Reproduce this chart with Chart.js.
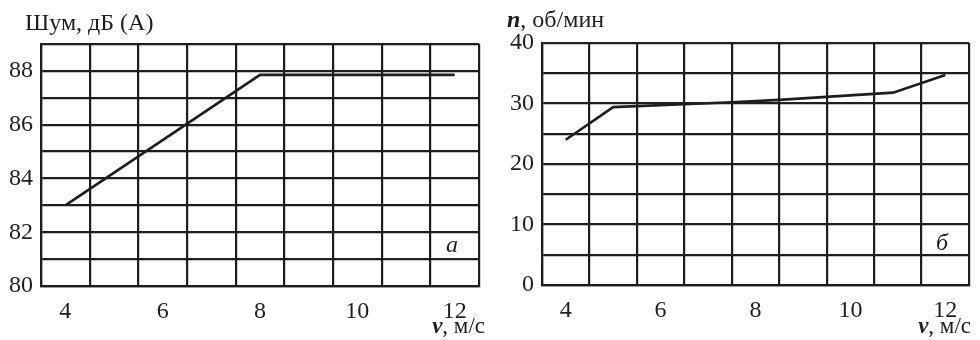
<!DOCTYPE html>
<html>
<head>
<meta charset="utf-8">
<script src="https://cdn.jsdelivr.net/npm/chart.js@4.4.1/dist/chart.umd.min.js"></script>
<style>
  body { margin: 0; background: #fff; }
  .wrap { position: absolute; top: 0; width: 490px; height: 340px; }
</style>
</head>
<body>
<div class="wrap" style="left:0"><canvas id="noise_chart" width="490" height="340"></canvas></div>
<div class="wrap" style="left:490px"><canvas id="speed_chart" width="490" height="340"></canvas></div>
<script>
// wind speed, m/s
const noiseV   = [4, 8, 12];
const noiseDb  = [83, 87.85, 87.85];

const rotorV   = [4, 5, 7.5, 8.5, 10.9, 12];
const rotorN   = [24, 29.4, 30.2, 30.6, 31.8, 34.7];

const xTickLabels = [4, 6, 8, 10, 12];

const ink = '#1e1e1e';
const serif = '"Liberation Serif", "DejaVu Serif", serif';

function toPoints(xs, ys) {
    return xs.map((x, i) => ({ x: x, y: ys[i] }));
}

// grid every 1 m/s but shifted by half, labels only on even values
function halfTicks(scale) {
    const ticks = [];
    for (let v = scale.min; v <= scale.max + 1e-9; v += 0.5) {
        ticks.push({ value: Math.round(v * 10) / 10 });
    }
    scale.ticks = ticks;
}

// text drawn by hand: axis names and panel letter
const annotations = {
    id: 'annotations',
    afterDraw(chart, args, opts) {
        const c = chart.ctx;
        const area = chart.chartArea;
        c.save();
        c.fillStyle = ink;
        c.textBaseline = 'alphabetic';
        c.textAlign = 'left';

        // y title: optional bold italic symbol then rest
        let x = opts.yTitle.x;
        if (opts.yTitle.symbol) {
            c.font = 'italic bold 24px ' + serif;
            c.fillText(opts.yTitle.symbol, x, opts.yTitle.y);
            x += c.measureText(opts.yTitle.symbol).width;
        }
        c.font = '24px ' + serif;
        c.fillText(opts.yTitle.text, x, opts.yTitle.y);

        // x title at bottom right
        c.font = 'italic bold 23px ' + serif;
        const sym = 'v';
        const rest = ', м/с';
        const wSym = c.measureText(sym).width;
        c.font = '23px ' + serif;
        const wRest = c.measureText(rest).width;
        let xx = area.right + opts.xTitleShift - wSym - wRest;
        c.font = 'italic bold 23px ' + serif;
        c.fillText(sym, xx, 333);
        c.font = '23px ' + serif;
        c.fillText(rest, xx + wSym, 333);

        // panel letter
        c.font = 'italic 24px ' + serif;
        c.textAlign = 'center';
        c.fillText(opts.letter, area.right - 27, opts.letterY);
        c.restore();
    }
};

function makeChart(el, points, yMin, yMax, yStep, yLabelStep, pad, yWidth, xHeight, ann) {
    return new Chart(el, {
        type: 'line',
        data: {
            datasets: [{
                data: points,
                borderColor: ink,
                borderWidth: 2.6,
                pointRadius: 0,
                tension: 0,
                fill: false
            }]
        },
        options: {
            responsive: false,
            animation: false,
            devicePixelRatio: 1,
            layout: { padding: pad },
            plugins: {
                legend: { display: false },
                tooltip: { enabled: false },
                annotations: ann
            },
            scales: {
                x: {
                    type: 'linear',
                    min: 3.5,
                    max: 12.5,
                    afterBuildTicks: halfTicks,
                    afterFit: function(scale) { scale.height = xHeight; },
                    grid: {
                        color: ctx => (ctx.tick && ctx.tick.value % 1 !== 0) ? ink : 'rgba(0,0,0,0)',
                        lineWidth: 2.2,
                        drawTicks: false
                    },
                    border: { display: true, color: ink, width: 2.2 },
                    ticks: {
                        autoSkip: false,
                        maxRotation: 0,
                        padding: 11,
                        color: ink,
                        font: { family: serif, size: 24 },
                        callback: v => xTickLabels.includes(v) ? String(v) : ''
                    }
                },
                y: {
                    min: yMin,
                    max: yMax,
                    afterFit: function(scale) { scale.width = yWidth; },
                    grid: { color: ink, lineWidth: 2.2, drawTicks: false },
                    border: { display: true, color: ink, width: 2.2 },
                    ticks: {
                        stepSize: yStep,
                        autoSkip: false,
                        padding: 8,
                        color: ink,
                        font: { family: serif, size: 24 },
                        callback: v => (v % yLabelStep === 0) ? String(v) : ''
                    }
                }
            }
        },
        plugins: [annotations]
    });
}

makeChart(document.getElementById('noise_chart'),
    toPoints(noiseV, noiseDb), 80, 89, 1, 2,
    { left: 0, top: 44, right: 9, bottom: 0 }, 41, 54,
    { yTitle: { x: 25, y: 30, text: 'Шум, дБ (А)' }, letter: 'а', letterY: 252, xTitleShift: 6 });

makeChart(document.getElementById('speed_chart'),
    toPoints(rotorV, rotorN), 0, 40, 5, 10,
    { left: 0, top: 43, right: 8, bottom: 0 }, 52, 55,
    { yTitle: { x: 17, y: 27, symbol: 'n', text: ', об/мин' }, letter: 'б', letterY: 250, xTitleShift: 2 });
</script>
</body>
</html>
